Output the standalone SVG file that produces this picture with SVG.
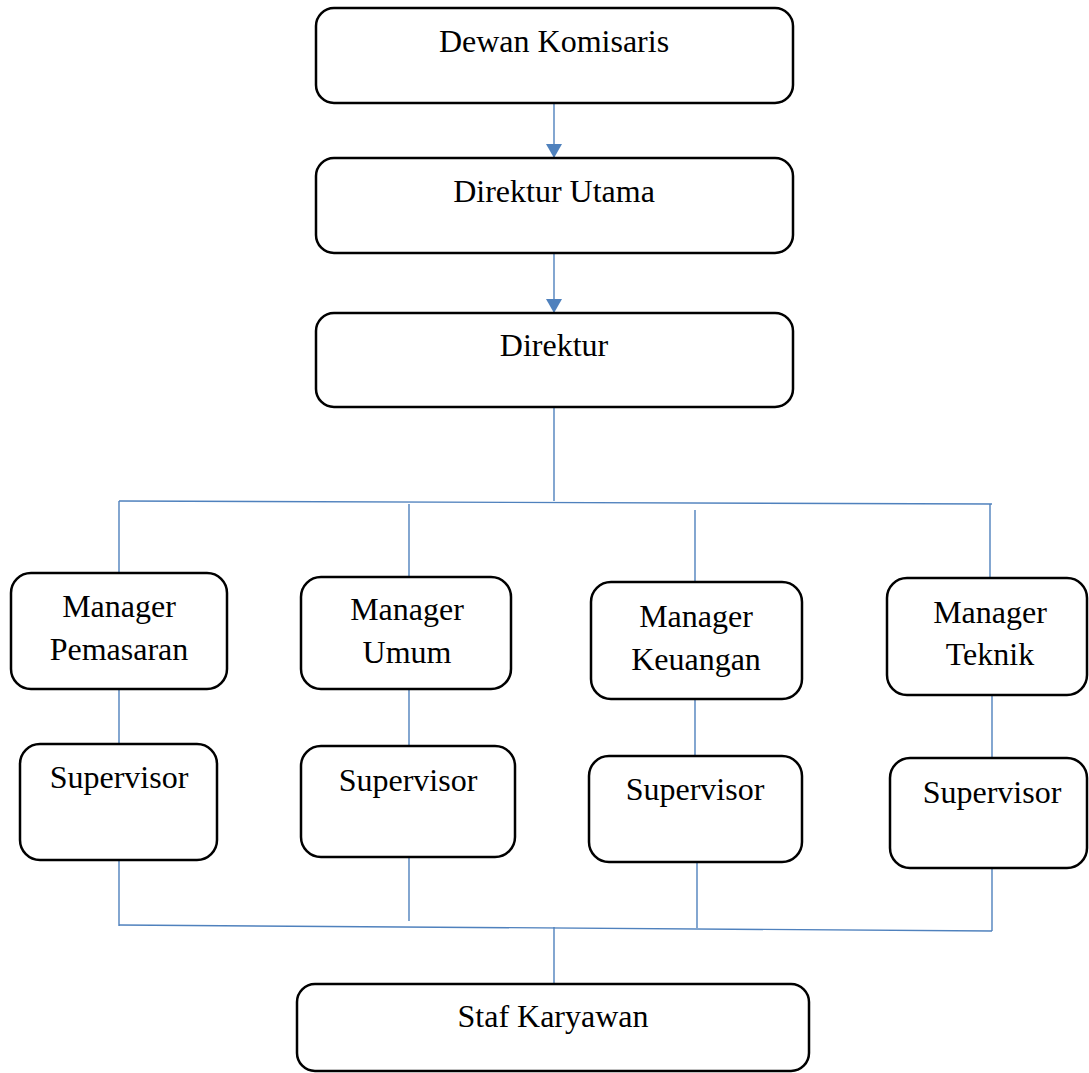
<svg xmlns="http://www.w3.org/2000/svg" width="1089" height="1073" viewBox="0 0 1089 1073">
<style>
.box{fill:#fff;stroke:#000;stroke-width:2.5}
.t{font-family:"Liberation Serif","Times New Roman",serif;font-size:32px;fill:#000;text-anchor:middle}
.c{fill:none;stroke:#4F81BD;stroke-width:1.4}
</style>
<defs>
<marker id="arr" viewBox="0 0 14 16" refX="14" refY="8" markerWidth="14" markerHeight="16" markerUnits="userSpaceOnUse" orient="auto">
<path d="M0,0 L14,8 L0,16 z" fill="#4F81BD"/>
</marker>
</defs>
<rect width="1089" height="1073" fill="#fff"/>
<g id="connectors">
<path class="c" d="M554,103 V158" marker-end="url(#arr)"/>
<path class="c" d="M554,253 V313" marker-end="url(#arr)"/>
<path class="c" d="M554,407 V501"/>
<path class="c" d="M119,501 L992,504"/>
<path class="c" d="M119,501 V573"/>
<path class="c" d="M409,504 V577"/>
<path class="c" d="M695,510 V582"/>
<path class="c" d="M990,504 V578"/>
<path class="c" d="M119,689 V744"/>
<path class="c" d="M409,689 V746"/>
<path class="c" d="M695,699 V756"/>
<path class="c" d="M992,695 V758"/>
<path class="c" d="M119,860 V926"/>
<path class="c" d="M409,857 V921"/>
<path class="c" d="M697,862 V928"/>
<path class="c" d="M992,868 V931"/>
<path class="c" d="M119,925 L992,931"/>
<path class="c" d="M554,927 V984"/>
</g>
<g id="dewan-komisaris">
<rect class="box" x="316" y="8" width="477" height="95" rx="18"/>
<text class="t" x="554" y="52">Dewan Komisaris</text>
</g>
<g id="direktur-utama">
<rect class="box" x="316" y="158" width="477" height="95" rx="18"/>
<text class="t" x="554" y="202">Direktur Utama</text>
</g>
<g id="direktur">
<rect class="box" x="316" y="313" width="477" height="94" rx="18"/>
<text class="t" x="554" y="356">Direktur</text>
</g>
<g id="manager-pemasaran">
<rect class="box" x="11" y="573" width="216" height="116" rx="20"/>
<text class="t" x="119" y="617">Manager</text>
<text class="t" x="119" y="660">Pemasaran</text>
</g>
<g id="manager-umum">
<rect class="box" x="301" y="577" width="210" height="112" rx="20"/>
<text class="t" x="407" y="620">Manager</text>
<text class="t" x="407" y="663">Umum</text>
</g>
<g id="manager-keuangan">
<rect class="box" x="591" y="582" width="211" height="117" rx="20"/>
<text class="t" x="696" y="627">Manager</text>
<text class="t" x="696" y="670">Keuangan</text>
</g>
<g id="manager-teknik">
<rect class="box" x="887" y="578" width="200" height="117" rx="20"/>
<text class="t" x="990" y="623">Manager</text>
<text class="t" x="990" y="665">Teknik</text>
</g>
<g id="supervisor-1">
<rect class="box" x="20" y="744" width="197" height="116" rx="20"/>
<text class="t" x="119" y="788">Supervisor</text>
</g>
<g id="supervisor-2">
<rect class="box" x="301" y="746" width="214" height="111" rx="20"/>
<text class="t" x="408" y="791">Supervisor</text>
</g>
<g id="supervisor-3">
<rect class="box" x="589" y="756" width="213" height="106" rx="20"/>
<text class="t" x="695" y="800">Supervisor</text>
</g>
<g id="supervisor-4">
<rect class="box" x="890" y="758" width="197" height="110" rx="20"/>
<text class="t" x="992" y="803">Supervisor</text>
</g>
<g id="staf-karyawan">
<rect class="box" x="297" y="984" width="512" height="87" rx="18"/>
<text class="t" x="553" y="1027">Staf Karyawan</text>
</g>
</svg>
